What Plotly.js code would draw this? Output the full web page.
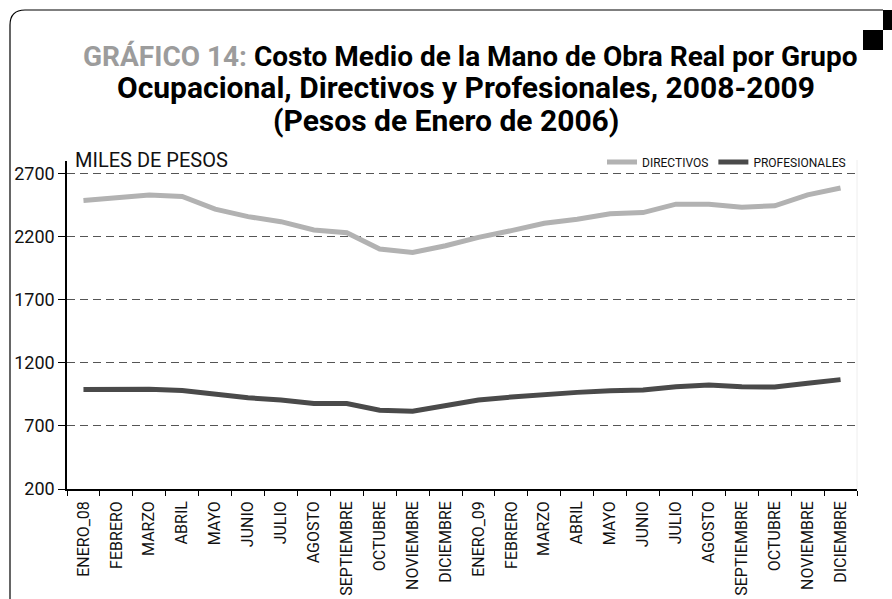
<!DOCTYPE html>
<html>
<head>
<meta charset="utf-8">
<script src="https://cdn.plot.ly/plotly-3.0.1.min.js"></script>
<style>
  body { margin: 0; background: #fff; }
  #chart { width: 892px; height: 599px; }
</style>
</head>
<body>
<div id="chart"></div>
<script>
// month labels, two years
var meses = ["ENERO_08", "FEBRERO", "MARZO", "ABRIL", "MAYO", "JUNIO", "JULIO", "AGOSTO",
  "SEPTIEMBRE", "OCTUBRE", "NOVIEMBRE", "DICIEMBRE",
  "ENERO_09", "FEBRERO", "MARZO", "ABRIL", "MAYO", "JUNIO", "JULIO", "AGOSTO",
  "SEPTIEMBRE", "OCTUBRE", "NOVIEMBRE", "DICIEMBRE"];

// miles de pesos
var directivos = [2487, 2509, 2530, 2519, 2418, 2359, 2319, 2253, 2232, 2102, 2075, 2128,
  2195, 2248, 2306, 2338, 2381, 2391, 2458, 2458, 2434, 2445, 2532, 2586];
var profesionales = [988, 993, 990, 981, 950, 923, 905, 878, 878, 825, 817, 860,
  905, 929, 950, 966, 979, 985, 1011, 1024, 1011, 1008, 1038, 1067];

var yTicks = [200, 700, 1200, 1700, 2200, 2700];

var idx = meses.map(function(m, i) { return i; });
var bounds = [-0.5].concat(idx.map(function(i) { return i + 0.5; }));

// pixel -> paper helpers (plot area 67..857 x 161..489)
var L = 67, R = 857, T = 161, B = 489;
function px(x) { return (x - L) / (R - L); }
function py(y) { return (B - y) / (B - T); }

var fontN = "Roboto, 'Liberation Sans', sans-serif";

var trace1 = {
  x: idx, y: directivos, type: "scatter", mode: "lines", name: "DIRECTIVOS",
  line: {color: "#b2b2b2", width: 5}
};
var trace2 = {
  x: idx, y: profesionales, type: "scatter", mode: "lines", name: "PROFESIONALES",
  line: {color: "#4a4a4a", width: 5}
};

var layout = {
  width: 892, height: 599,
  margin: {l: L, r: 892 - R, t: T, b: 599 - B},
  paper_bgcolor: "#fff", plot_bgcolor: "#fff",
  showlegend: true,
  legend: {
    orientation: "h", x: px(851), xanchor: "right", y: py(162), yanchor: "middle",
    font: {family: fontN, size: 12, color: "#111"}, itemwidth: 30,
    bgcolor: "rgba(0,0,0,0)"
  },
  xaxis: {
    range: [-0.5, 23.5], tickmode: "array", tickvals: idx, ticktext: meses,
    tickangle: -90, ticks: "outside", ticklen: 4, tickcolor: "rgba(0,0,0,0)",
    tickfont: {family: fontN, size: 16, color: "#111"},
    showline: true, linecolor: "#000", linewidth: 1.5, showgrid: false, zeroline: false,
    minor: {tickmode: "array", tickvals: bounds, ticks: "outside", ticklen: 5, tickcolor: "#000", showgrid: false}
  },
  yaxis: {
    range: [200, 2800], tickmode: "array", tickvals: yTicks,
    ticks: "outside", ticklen: 7, tickcolor: "#000",
    tickfont: {family: fontN, size: 18, color: "#111"},
    showline: true, linecolor: "#000", linewidth: 1.5, zeroline: false,
    showgrid: true, gridcolor: "#555", gridwidth: 1.3, griddash: "8px,5px"
  },
  annotations: [
    {xref: "paper", yref: "paper", x: px(470), y: py(57), xanchor: "center", yanchor: "middle", showarrow: false,
      text: "<span style='color:#9c9c9c'>GRÁFICO 14:</span> Costo Medio de la Mano de Obra Real por Grupo",
      font: {family: fontN, size: 28, color: "#000", weight: 700}},
    {xref: "paper", yref: "paper", x: px(466), y: py(88), xanchor: "center", yanchor: "middle", showarrow: false,
      text: "Ocupacional, Directivos y Profesionales, 2008-2009",
      font: {family: fontN, size: 30, color: "#000", weight: 700}},
    {xref: "paper", yref: "paper", x: px(446), y: py(120), xanchor: "center", yanchor: "middle", showarrow: false,
      text: "(Pesos de Enero de 2006)",
      font: {family: fontN, size: 30, color: "#000", weight: 700}},
    {xref: "paper", yref: "paper", x: px(73), y: py(160), xanchor: "left", yanchor: "middle", showarrow: false,
      text: "MILES DE PESOS", font: {family: fontN, size: 20, color: "#111"}}
  ],
  shapes: [
    // frame with rounded corner
    {type: "path", xref: "paper", yref: "paper", layer: "above",
      path: "M " + px(10) + " " + py(605) + " L " + px(10) + " " + py(25) +
        " Q " + px(10) + " " + py(10) + " " + px(25) + " " + py(10) +
        " L " + px(883) + " " + py(10),
      line: {color: "#000", width: 1.2}},
    {type: "rect", xref: "paper", yref: "paper", x0: px(883), x1: px(895), y0: py(10), y1: py(30),
      fillcolor: "#000", line: {width: 0}},
    {type: "rect", xref: "paper", yref: "paper", x0: px(863), x1: px(883), y0: py(30), y1: py(50),
      fillcolor: "#000", line: {width: 0}},
    // faint right edge of plot area
    {type: "line", xref: "paper", yref: "paper", x0: 1, x1: 1, y0: 0, y1: py(160),
      line: {color: "#eeeeee", width: 1}}
  ]
};

Plotly.newPlot("chart", [trace1, trace2], layout, {displayModeBar: false});
</script>
</body>
</html>
